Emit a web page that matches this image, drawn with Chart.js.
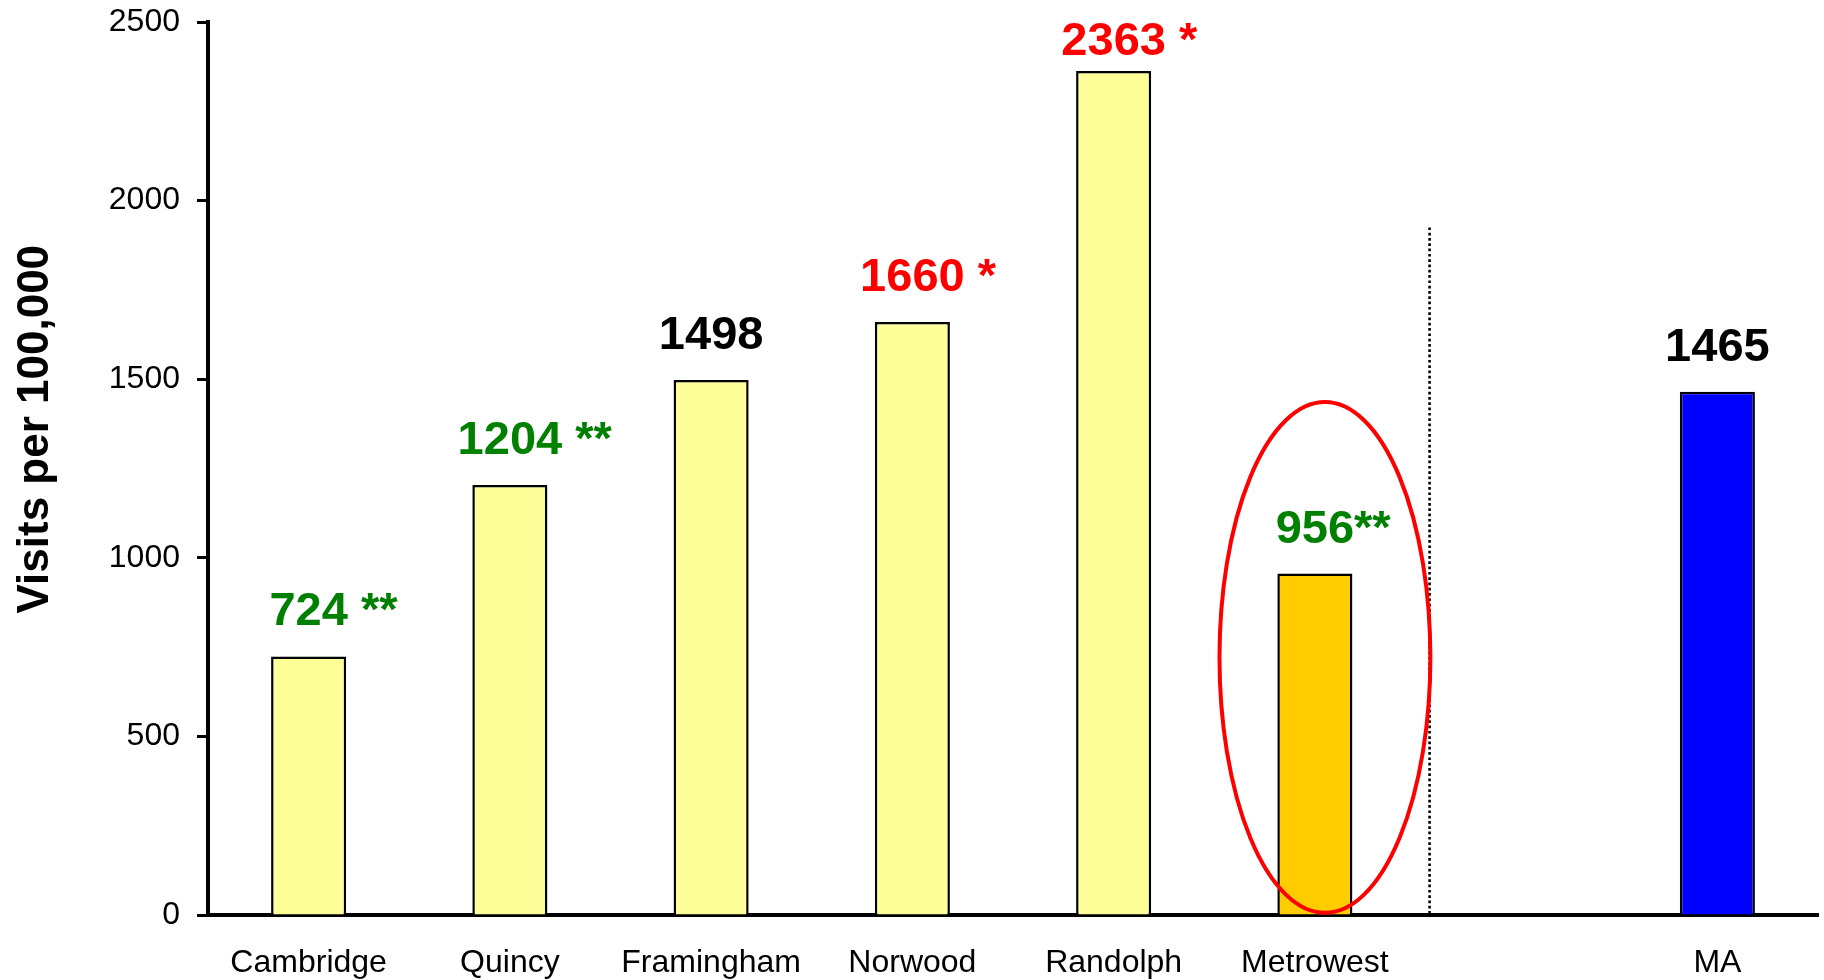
<!DOCTYPE html>
<html>
<head>
<meta charset="utf-8">
<script src="https://cdn.jsdelivr.net/npm/chart.js@4.4.1/dist/chart.umd.min.js"></script>
<style>
  html, body { margin: 0; padding: 0; background: #ffffff; }
  #wrap { width: 1824px; height: 980px; }
</style>
</head>
<body>
<div id="wrap"><canvas id="c" width="1824" height="980"></canvas></div>
<script>
// ---------- data ----------
const categories = ["Cambridge", "Quincy", "Framingham", "Norwood", "Randolph", "Metrowest", "", "MA"];
const visits = [724, 1204, 1498, 1660, 2363, 956, null, 1465];
const significance = [" **", " **", "", " *", " *", "**", "", ""];
const yTicks = [0, 500, 1000, 1500, 2000, 2500];
const yTitle = "Visits per 100,000";

// ---------- styles ----------
const barColors = ["#FFFF99", "#FFFF99", "#FFFF99", "#FFFF99", "#FFFF99", "#FFCC00", "#FFFF99", "#0000FF"];
const labelColors = ["#008000", "#008000", "#000000", "#FF0000", "#FF0000", "#008000", "#000000", "#000000"];
const FONT = "Arial, 'Liberation Sans', Helvetica, sans-serif";

// decoration placement (in data units)
const dividerAt = 5.57;      // category-index position of dotted separator
const dividerTop = 1925;     // value where separator starts
const ellipseCenter = { x: 5.05, y: 721 };
const ellipseRadius = { x: 0.524, y: 715 };
const titleAt = 1360;        // value at which the y title is centred

const decorations = {
  id: "decorations",
  afterDatasetsDraw(chart) {
    const { ctx, scales: { x, y }, chartArea } = chart;
    const step = x.getPixelForValue(1) - x.getPixelForValue(0);
    const meta = chart.getDatasetMeta(0);

    // value labels
    ctx.save();
    ctx.font = "bold 47px " + FONT;
    ctx.textBaseline = "alphabetic";
    meta.data.forEach((bar, i) => {
      const v = visits[i];
      if (v === null || v === undefined) return;
      const num = String(v);
      const base = Math.max(bar.y - 31, chartArea.top + 33);
      ctx.fillStyle = labelColors[i];
      ctx.textAlign = "center";
      ctx.fillText(num, bar.x, base);
      if (significance[i]) {
        const w = ctx.measureText(num).width;
        ctx.textAlign = "left";
        ctx.fillText(significance[i], bar.x + w / 2, base);
      }
    });
    ctx.restore();

    // dotted separator
    const dx = x.getPixelForValue(0) + dividerAt * step;
    ctx.save();
    ctx.strokeStyle = "#000000";
    ctx.lineWidth = 2.6;
    ctx.setLineDash([2.7, 2.6]);
    ctx.beginPath();
    ctx.moveTo(dx, y.getPixelForValue(dividerTop));
    ctx.lineTo(dx, y.getPixelForValue(0));
    ctx.stroke();
    ctx.restore();

    // highlight ellipse
    const cx = x.getPixelForValue(0) + ellipseCenter.x * step;
    const cy = y.getPixelForValue(ellipseCenter.y);
    const rx = ellipseRadius.x * step;
    const ry = y.getPixelForValue(0) - y.getPixelForValue(ellipseRadius.y);
    ctx.save();
    ctx.strokeStyle = "#FF0000";
    ctx.lineWidth = 4;
    ctx.beginPath();
    ctx.ellipse(cx, cy, rx, ry, 0, 0, Math.PI * 2);
    ctx.stroke();
    ctx.restore();

    // y axis title
    ctx.save();
    ctx.font = "bold 44px " + FONT;
    ctx.fillStyle = "#000000";
    ctx.textAlign = "center";
    ctx.textBaseline = "middle";
    ctx.translate(36, y.getPixelForValue(titleAt));
    ctx.rotate(-Math.PI / 2);
    ctx.fillText(yTitle, 0, 0);
    ctx.restore();
  }
};

new Chart(document.getElementById("c"), {
  type: "bar",
  data: {
    labels: categories,
    datasets: [{
      data: visits,
      backgroundColor: barColors,
      borderColor: "#000000",
      borderWidth: 2.5,
      borderSkipped: "bottom",
      categoryPercentage: 1.0,
      barPercentage: 0.373
    }]
  },
  options: {
    responsive: false,
    animation: false,
    devicePixelRatio: 1,
    layout: { padding: { top: 22, right: 6, left: 0, bottom: 0 } },
    plugins: { legend: { display: false }, tooltip: { enabled: false } },
    scales: {
      x: {
        grid: { display: true, drawOnChartArea: false, drawTicks: false },
        border: { display: true, color: "#000000", width: 4 },
        ticks: {
          color: "#000000",
          font: { family: FONT, size: 32 },
          padding: 29,
          maxRotation: 0,
          autoSkip: false
        },
        afterFit(scale) { scale.height = 65; scale.paddingLeft = 0; scale.paddingRight = 0; }
      },
      y: {
        min: 0,
        max: 2500,
        afterBuildTicks(scale) { scale.ticks = yTicks.map(v => ({ value: v })); },
        grid: { display: true, drawOnChartArea: false, drawTicks: true, tickLength: 11, tickWidth: 3, tickColor: "#000000" },
        border: { display: true, color: "#000000", width: 4 },
        ticks: {
          color: "#000000",
          font: { family: FONT, size: 32 },
          padding: 17,
          callback: (v) => String(v)
        },
        afterFit(scale) { scale.width = 208; scale.paddingTop = 0; scale.paddingBottom = 0; }
      }
    }
  },
  plugins: [decorations]
});
</script>
</body>
</html>
